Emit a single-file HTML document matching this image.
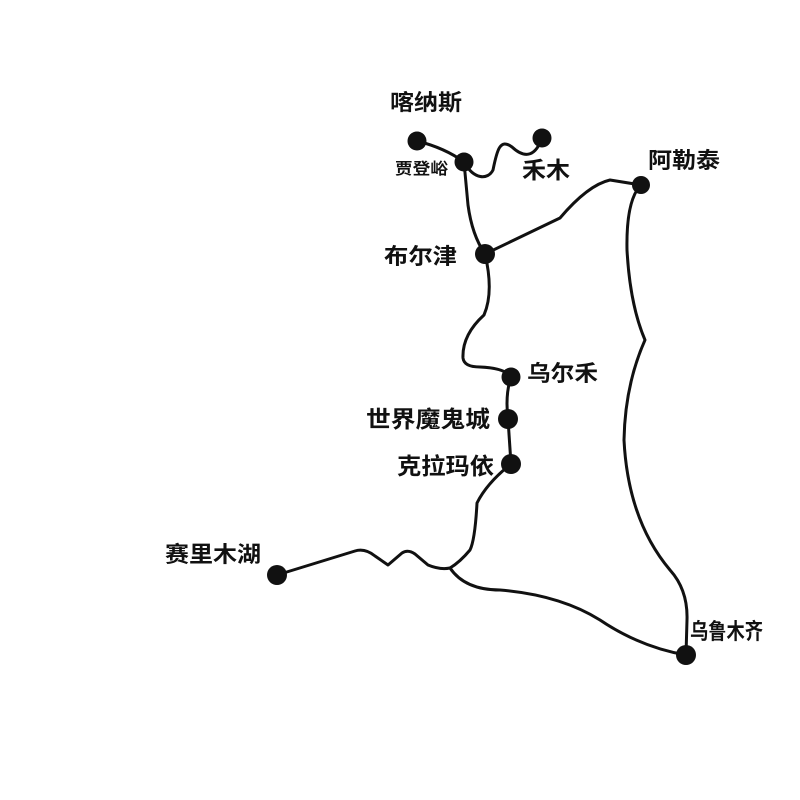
<!DOCTYPE html>
<html><head><meta charset="utf-8"><style>
html,body{margin:0;padding:0;background:#fff;}
svg{display:block;}
text{font-family:"Liberation Sans","Noto Sans CJK SC",sans-serif;font-weight:bold;fill:#111;dominant-baseline:middle;}
</style></head><body>
<svg width="800" height="800" viewBox="0 0 800 800">
<g fill="none" stroke="#111" stroke-width="3" stroke-linecap="round" stroke-linejoin="round">
<path d="M417,141 Q445,148 464,162"/>
<path d="M464,162 C474,180 488,180 493,170 C497,150 500,138 512,147 C526,160 536,155 542,138"/>
<path d="M464,162 L468,205 Q472,235 485,254"/>
<path d="M485,254 L560,218 Q588,185 610,180 L641,185"/>
<path d="M641,185 Q626,200 627,250 Q630,305 645,340 Q625,385 624,440 Q628,520 670,570 Q688,590 687,620 L686,655"/>
<path d="M485,254 Q494,292 484,315 Q462,335 463,358 Q464,367 480,367 Q505,368 511,377"/>
<path d="M511,377 Q505,395 508,419 L511,464"/>
<path d="M511,464 Q487,483 477,503 Q475,540 470,550 Q460,562 450,568"/>
<path d="M277,575 L355,551 Q365,548 375,556 L388,565 L402,553 Q408,549 415,554 L428,565 Q440,570 450,568"/>
<path d="M450,568 Q465,590 500,590 Q560,595 600,620 Q640,647 686,655"/>
</g>
<g fill="#111">
<circle cx="417" cy="141" r="9.5"/>
<circle cx="542" cy="138" r="9.5"/>
<circle cx="464" cy="162" r="9.5"/>
<circle cx="641" cy="185" r="9"/>
<circle cx="485" cy="254" r="10"/>
<circle cx="511" cy="377" r="9.5"/>
<circle cx="508" cy="419" r="10"/>
<circle cx="511" cy="464" r="10"/>
<circle cx="277" cy="575" r="10"/>
<circle cx="686" cy="655" r="10"/>
</g>
<text x="390" y="104" font-size="22" textLength="72" lengthAdjust="spacingAndGlyphs">喀纳斯</text>
<text x="395" y="170" font-size="16" textLength="53" lengthAdjust="spacingAndGlyphs">贾登峪</text>
<text x="522" y="172" font-size="23" textLength="48" lengthAdjust="spacingAndGlyphs">禾木</text>
<text x="648" y="162" font-size="22" textLength="72" lengthAdjust="spacingAndGlyphs">阿勒泰</text>
<text x="384" y="258" font-size="22" textLength="73" lengthAdjust="spacingAndGlyphs">布尔津</text>
<text x="527" y="375" font-size="22" textLength="71" lengthAdjust="spacingAndGlyphs">乌尔禾</text>
<text x="366" y="421" font-size="23" textLength="124" lengthAdjust="spacingAndGlyphs">世界魔鬼城</text>
<text x="397" y="468" font-size="23" textLength="97" lengthAdjust="spacingAndGlyphs">克拉玛依</text>
<text x="165" y="556" font-size="22" textLength="96" lengthAdjust="spacingAndGlyphs">赛里木湖</text>
<text x="690" y="633" font-size="22" textLength="73" lengthAdjust="spacingAndGlyphs">乌鲁木齐</text>
</svg>
</body></html>
